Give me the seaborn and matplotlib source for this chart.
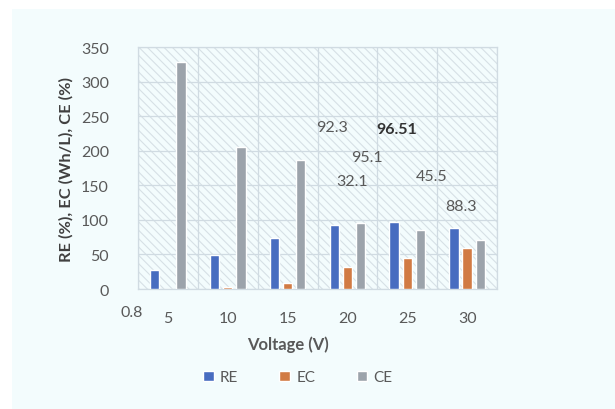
import numpy as np
import pandas as pd
import matplotlib
matplotlib.use("Agg")
import matplotlib.pyplot as plt
from matplotlib.patches import Rectangle
import seaborn as sns

# chart values
voltages = ["5", "10", "15", "20", "25", "30"]
re_vals = [27, 49, 74, 92.3, 96.51, 88.3]
ec_vals = [0, 2.5, 8, 32.1, 45.5, 60]
ce_vals = [328, 205, 186, 95.1, 86, 71]
series_names = ["RE", "EC", "CE"]
callout_texts = ["92.3", "96.51", "95.1", "32.1", "45.5", "88.3"]

df = pd.DataFrame({
    "Voltage": voltages * 3,
    "Series": np.repeat(series_names, len(voltages)),
    "Value": re_vals + ec_vals + ce_vals,
})

sns.set_style("white")
plt.rcParams["font.family"] = ["Lato", "DejaVu Sans"]
plt.rcParams["hatch.color"] = "#d6e0e6"
plt.rcParams["hatch.linewidth"] = 0.8

bg = "#f3fcfd"
txt = "#595959"
palette = {"RE": "#3464d4", "EC": "#e8762d", "CE": "#9aa3ad"}

fig = plt.figure(figsize=(6.15, 4.1), dpi=100, facecolor="white")
# light panel behind the chart
panel = Rectangle((12 / 615, 0), 1, 1 - 10 / 410, transform=fig.transFigure,
                  facecolor=bg, edgecolor="none", zorder=-10)
fig.add_artist(panel)
ax = fig.add_axes([138 / 615, 120 / 410, 359 / 615, 242 / 410])
ax.set_zorder(1)
ax.set_facecolor(bg)
ax.add_patch(Rectangle((0, 0), 1, 1, transform=ax.transAxes, facecolor="none",
                       hatch="\\\\\\\\", edgecolor="#d6e0e6", linewidth=0, zorder=0))

sns.barplot(data=df, x="Voltage", y="Value", hue="Series", palette=palette,
            width=0.66, gap=0.3, ax=ax, zorder=3, legend=True)

ax.set_ylim(0, 350)
ax.set_xlim(-0.5, len(voltages) - 0.5)
ax.set_yticks(np.arange(0, 351, 50))
ax.yaxis.grid(True, color="#d0dbe2", linewidth=0.9)
ax.set_xticks(np.arange(-0.5, len(voltages), 1), minor=True)
ax.grid(True, which="minor", axis="x", color="#d0dbe2", linewidth=0.9)
ax.set_axisbelow(True)
for s in ax.spines.values():
    s.set_color("#d0dbe2")
    s.set_linewidth(0.9)

ax.tick_params(axis="both", which="both", length=0, labelsize=11.5, colors=txt)
ax.tick_params(axis="x", pad=16)
ax.tick_params(axis="y", pad=21)
ax.set_xlabel("Voltage (V)", fontsize=12, color=txt, fontweight="bold")
ax.xaxis.set_label_coords(150 / 359, -0.19)
ax.set_ylabel("RE (%), EC (Wh/L), CE (%)", fontsize=11.8, color="#404040",
              fontweight="bold")
ax.yaxis.set_label_coords(-0.18, 0.5)

# stray "0.8" label at the left of the category axis
ax.text(-0.61, -0.065, "0.8", transform=ax.get_xaxis_transform(), ha="center", va="top",
        fontsize=11.5, color=txt)

# free-floating data callouts
callout_pos = [(2.75, 234), (3.83, 232), (3.33, 191), (3.07, 156), (4.4, 164), (4.9, 120)]
for t, (x, y) in zip(callout_texts, callout_pos):
    ax.text(x, y, t, ha="center", va="center", fontsize=11.5,
            color="#333333" if t == "96.51" else txt,
            fontweight="bold" if t == "96.51" else "normal", zorder=5)

leg = ax.legend(loc="center", bbox_to_anchor=(0.445, -0.365), ncol=3, frameon=False,
                fontsize=11, handlelength=0.7, handleheight=0.7, columnspacing=2.7,
                handletextpad=0.4)
for t in leg.get_texts():
    t.set_color(txt)

plt.savefig("out.png", dpi=100, facecolor=fig.get_facecolor())
